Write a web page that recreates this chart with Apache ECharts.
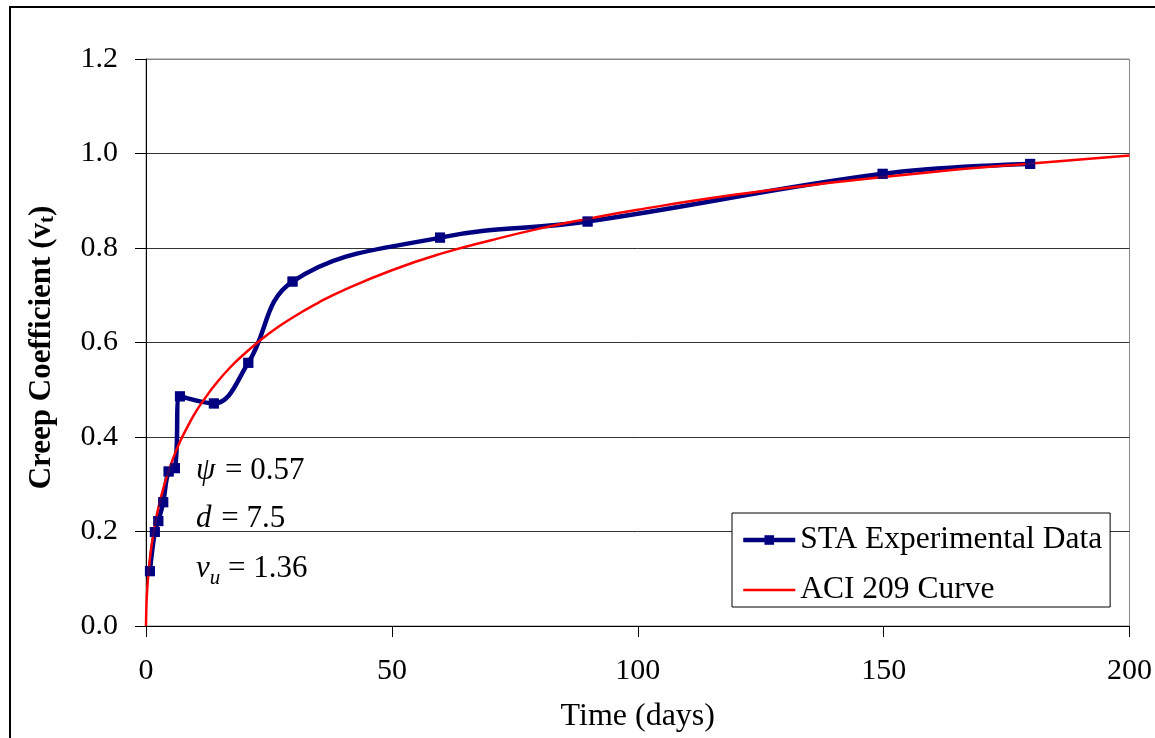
<!DOCTYPE html>
<html>
<head>
<meta charset="utf-8">
<script src="https://cdn.jsdelivr.net/npm/echarts@6/dist/echarts.min.js"></script>
<style>
  html, body { margin: 0; padding: 0; background: #fff; }
  #chart { width: 1155px; height: 738px; }
</style>
</head>
<body>
<div id="chart"></div>
<script>
// Measured creep coefficient (STA experimental data), days vs. coefficient
const staDays   = [0.8, 1.8, 2.5, 3.5, 4.6, 5.9, 6.9, 13.8, 20.8, 29.8, 59.8, 89.8, 149.8, 179.8];
const staValues = [0.116, 0.199, 0.222, 0.262, 0.327, 0.334, 0.486, 0.471, 0.557, 0.729, 0.822, 0.856, 0.957, 0.978];

// ACI 209 predicted curve, days vs. coefficient
const aciDays   = [0, 0.1, 0.25, 0.5, 1, 2, 3, 4, 5, 6, 7, 8, 10, 12, 14, 17, 20, 25, 30, 35, 40, 50, 60, 70, 80, 90, 100, 120, 140, 160, 180, 200];
const aciValues = [0, 0.047, 0.078, 0.112, 0.160, 0.225, 0.271, 0.309, 0.340, 0.368, 0.392, 0.413, 0.451, 0.482, 0.510, 0.546, 0.576, 0.619, 0.654, 0.684, 0.710, 0.753, 0.788, 0.816, 0.841, 0.862, 0.881, 0.913, 0.939, 0.961, 0.979, 0.996];

// Axis ticks
const xTicks = { min: 0, max: 200, step: 50 };
const yTicks = { min: 0, max: 1.2, step: 0.2 };

const serif = "'Liberation Serif', 'Times New Roman', serif";
const NAVY = '#000080';
const RED = '#ff0000';

const zip = (xs, ys) => xs.map((x, i) => [x, ys[i]]);

const chart = echarts.init(document.getElementById('chart'));

const eqRich = {
  i: { fontFamily: serif, fontSize: 31, fontStyle: 'italic', fill: '#000', padding: [0, 2, 0, 0] },
  v: { fontFamily: serif, fontSize: 31, fontStyle: 'italic', fill: '#000' },
  s: { fontFamily: serif, fontSize: 21, fontStyle: 'italic', fill: '#000', verticalAlign: 'bottom', padding: [19, 0, 0, 0] },
  n: { fontFamily: serif, fontSize: 31, fill: '#000' }
};

chart.setOption({
  animation: false,
  backgroundColor: '#fff',
  textStyle: { fontFamily: serif, color: '#000' },
  grid: {
    left: 146, right: 24, top: 59, bottom: 111,
    show: true, borderColor: '#888', borderWidth: 1, backgroundColor: 'transparent'
  },
  xAxis: {
    type: 'value',
    min: xTicks.min, max: xTicks.max, interval: xTicks.step,
    name: 'Time (days)',
    nameLocation: 'middle',
    nameGap: 75,
    nameTextStyle: { fontFamily: serif, fontSize: 32, color: '#000' },
    axisLine: { show: true, onZero: false, lineStyle: { color: '#000', width: 1 } },
    axisTick: { show: true, length: 11, lineStyle: { color: '#000' } },
    axisLabel: { fontFamily: serif, fontSize: 30, color: '#000', margin: 30 },
    splitLine: { show: false }
  },
  yAxis: {
    type: 'value',
    min: yTicks.min, max: yTicks.max, interval: yTicks.step,
    name: '{t|Creep Coefficient (v}{s|t}{t|)}',
    nameLocation: 'middle',
    nameGap: 88,
    nameRotate: 90,
    nameTextStyle: {
      padding: [0, 10, 0, 0],
      rich: {
        t: { fontFamily: serif, fontSize: 31, fontWeight: 'bold', color: '#000' },
        s: { fontFamily: serif, fontSize: 21, fontWeight: 'bold', color: '#000', verticalAlign: 'bottom', padding: [12, 0, 0, 0] }
      }
    },
    axisLine: { show: true, onZero: false, lineStyle: { color: '#000', width: 1 } },
    axisTick: { show: true, length: 11, lineStyle: { color: '#000' } },
    axisLabel: {
      fontFamily: serif, fontSize: 30, color: '#000', margin: 28,
      formatter: v => v.toFixed(1)
    },
    splitLine: {
      show: true,
      lineStyle: { color: ['#333', '#333', '#333', '#333', '#333', '#333', '#888'], width: 1 }
    }
  },
  legend: {
    orient: 'vertical',
    left: 732, top: 513,
    padding: [11, 8, 1, 9],
    itemGap: 18,
    itemWidth: 52,
    itemHeight: 12,
    backgroundColor: '#fff',
    borderColor: '#000',
    borderWidth: 1,
    textStyle: { fontFamily: serif, fontSize: 31.5, color: '#000' },
    data: [
      { name: 'STA Experimental Data', lineStyle: { width: 4.5 } },
      { name: 'ACI 209 Curve', itemStyle: { opacity: 0 }, lineStyle: { width: 2.5 } }
    ]
  },
  series: [
    {
      name: 'STA Experimental Data',
      type: 'line',
      data: zip(staDays, staValues),
      smooth: 0.4,
      symbol: 'rect',
      symbolSize: 10,
      lineStyle: { color: NAVY, width: 4.5 },
      itemStyle: { color: NAVY },
      z: 2
    },
    {
      name: 'ACI 209 Curve',
      type: 'line',
      data: zip(aciDays, aciValues),
      smooth: true,
      showSymbol: false,
      symbol: 'none',
      lineStyle: { color: RED, width: 2.5 },
      itemStyle: { color: RED },
      z: 3
    },
    {
      // experimental markers kept above the fitted curve
      name: 'STA markers',
      type: 'scatter',
      data: zip(staDays, staValues),
      symbol: 'rect',
      symbolSize: 10,
      itemStyle: { color: NAVY },
      silent: true,
      z: 4
    }
  ],
  graphic: [
    // outer chart frame
    {
      type: 'rect', z: 100, silent: true,
      shape: { x: 10, y: 7, width: 1170, height: 760 },
      style: { fill: 'none', stroke: '#000', lineWidth: 2 }
    },
    // model parameters
    {
      type: 'text', left: 196, top: 455, z: 50,
      style: { text: '{i|ψ}{n| = 0.57}', rich: eqRich }
    },
    {
      type: 'text', left: 196, top: 503, z: 50,
      style: { text: '{i|d}{n| = 7.5}', rich: eqRich }
    },
    {
      type: 'text', left: 196, top: 553, z: 50,
      style: { text: '{v|v}{s|u}{n| = 1.36}', rich: eqRich }
    }
  ]
});
</script>
</body>
</html>
